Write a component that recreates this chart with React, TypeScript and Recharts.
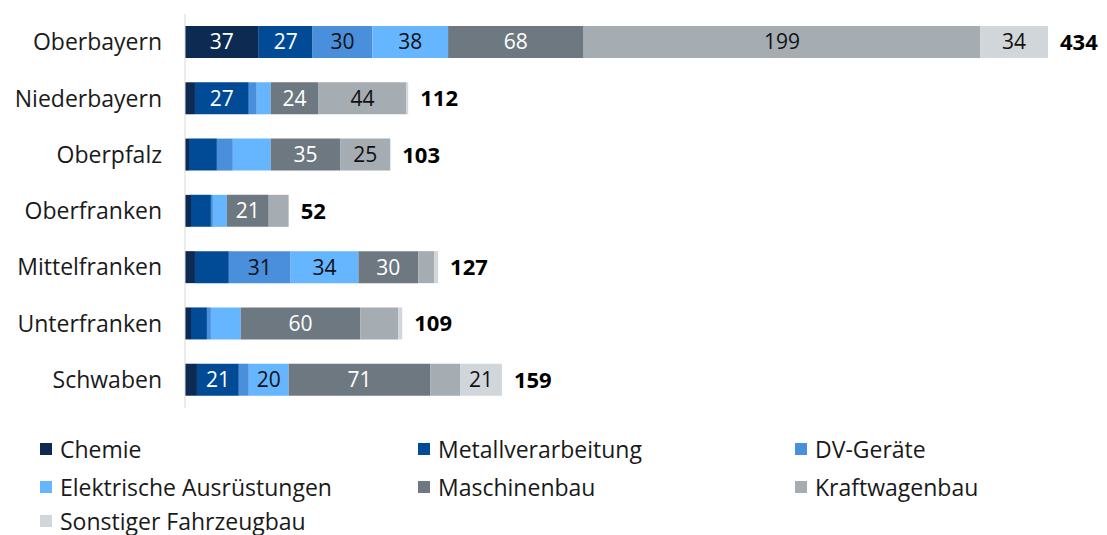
import * as React from "react";
import { BarChart, Bar, XAxis, YAxis, Legend, LabelList } from "recharts";

const regions = [
  "Oberbayern",
  "Niederbayern",
  "Oberpfalz",
  "Oberfranken",
  "Mittelfranken",
  "Unterfranken",
  "Schwaben",
];

const chemie = [37, 5, 2, 3, 5, 3, 6];
const metall = [27, 27, 14, 10, 17, 8, 21];
const dvGeraete = [30, 4, 8, 1, 31, 2, 5];
const elektrisch = [38, 7, 19, 7, 34, 15, 20];
const maschinen = [68, 24, 35, 21, 30, 60, 71];
const kraftwagen = [199, 44, 25, 10, 8, 19, 15];
const sonstige = [34, 1, 0, 0, 2, 2, 21];
const totals = [434, 112, 103, 52, 127, 109, 159];

const SERIES = [
  { key: "chemie", name: "Chemie", values: chemie, color: "#0D2B52", text: "#ffffff" },
  { key: "metall", name: "Metallverarbeitung", values: metall, color: "#004A96", text: "#ffffff" },
  { key: "dv", name: "DV-Geräte", values: dvGeraete, color: "#4A8FDB", text: "#111111" },
  { key: "elektro", name: "Elektrische Ausrüstungen", values: elektrisch, color: "#66B5FF", text: "#111111" },
  { key: "masch", name: "Maschinenbau", values: maschinen, color: "#6D7880", text: "#ffffff" },
  { key: "kraft", name: "Kraftwagenbau", values: kraftwagen, color: "#A5ACB2", text: "#111111" },
  { key: "sonst", name: "Sonstiger Fahrzeugbau", values: sonstige, color: "#D1D6DA", text: "#111111" },
];

const data = regions.map((region, i) => {
  const row: Record<string, string | number> = { region, total: totals[i] };
  SERIES.forEach((s) => {
    row[s.key] = s.values[i];
  });
  return row;
});

const FONT = "'Open Sans', sans-serif";

function ChartLegend() {
  const cols = [40, 418, 795];
  const rows = [450, 488, 522];
  return (
    <div style={{ position: "relative", width: 1107, height: 110, fontFamily: FONT }}>
      {SERIES.map((s, i) => (
        <div
          key={s.key}
          style={{
            position: "absolute",
            left: cols[i % 3],
            top: rows[Math.floor(i / 3)] - 449,
            display: "flex",
            alignItems: "center",
            fontSize: 23,
            lineHeight: "26px",
            color: "#1a1a1a",
            whiteSpace: "nowrap",
          }}
        >
          <span
            style={{
              width: 12,
              height: 12,
              background: s.color,
              marginRight: 8,
              display: "inline-block",
            }}
          />
          {s.name}
        </div>
      ))}
    </div>
  );
}

// total sits right of the whole stack; drawn from the Kraftwagenbau segment
// (never zero) and shifted by the Sonstiger segment using the same px/unit
function TotalLabel(props: any) {
  const { x, y, width, height, index } = props;
  const pxPerUnit = Number(width) / kraftwagen[index];
  const end = Number(x) + Number(width) + sonstige[index] * pxPerUnit;
  return (
    <text
      x={end + 12}
      y={Number(y) + Number(height) / 2}
      dy={8}
      fontFamily={FONT}
      fontSize={22}
      fontWeight={700}
      fill="#000"
    >
      {totals[index]}
    </text>
  );
}

export default function App() {
  return (
    <div style={{ position: "absolute", left: 0, top: 0, background: "#fff" }}>
      <BarChart
        width={1107}
        height={535}
        data={data}
        layout="vertical"
        margin={{ top: 14, right: 57, left: 0, bottom: 127 }}
      >
        <XAxis type="number" hide domain={[0, 434]} />
        <YAxis
          type="category"
          dataKey="region"
          width={185}
          tickLine={false}
          tickSize={0}
          tickMargin={23}
          axisLine={{ stroke: "#D9D9D9" }}
          tick={{ fontSize: 23, fill: "#1a1a1a", fontFamily: FONT }}
        />
        <Legend
          layout="horizontal"
          verticalAlign="middle"
          wrapperStyle={{ top: 435, left: 0, width: 1107 }}
          content={() => <ChartLegend />}
        />
        {SERIES.map((s) => (
          <Bar
            key={s.key}
            dataKey={s.key}
            name={s.name}
            stackId="a"
            fill={s.color}
            barSize={32}
            isAnimationActive={false}
          >
            <LabelList
              dataKey={s.key}
              position="center"
              fill={s.text}
              fontSize={21}
              fontFamily={FONT}
              formatter={(v: any) => (Number(v) >= 20 ? v : "")}
            />
            {s.key === "kraft" && <LabelList dataKey="total" content={TotalLabel} />}
          </Bar>
        ))}
      </BarChart>
    </div>
  );
}
